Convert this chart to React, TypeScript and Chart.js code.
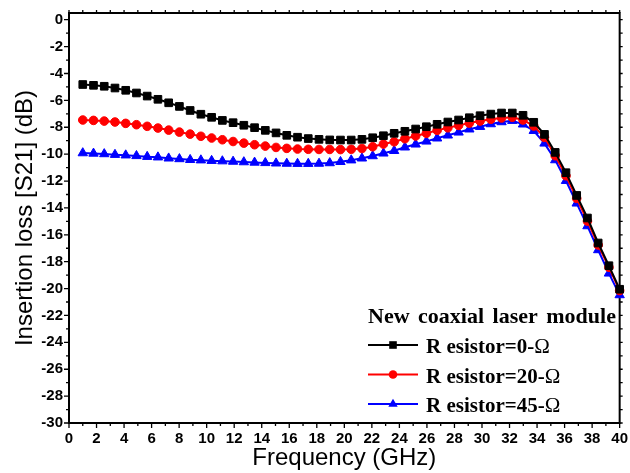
import React, { useEffect, useRef } from "react";
import { Chart, registerables } from "chart.js";

Chart.register(...registerables);

// Frequency points (GHz)
const frequencyGHz = [
  1.0, 1.78, 2.56, 3.34, 4.12, 4.9, 5.68, 6.46, 7.24, 8.02,
  8.8, 9.58, 10.36, 11.14, 11.92, 12.7, 13.48, 14.26, 15.04, 15.82,
  16.6, 17.38, 18.16, 18.94, 19.72, 20.5, 21.28, 22.06, 22.84, 23.62,
  24.4, 25.18, 25.96, 26.74, 27.52, 28.3, 29.08, 29.86, 30.64, 31.42,
  32.2, 32.98, 33.76, 34.54, 35.32, 36.1, 36.88, 37.66, 38.44, 39.22, 40.0,
];

// Insertion loss S21 (dB)
const resistor0 = [
  -4.82, -4.88, -4.95, -5.08, -5.25, -5.45, -5.68, -5.92, -6.18, -6.45,
  -6.75, -7.03, -7.26, -7.49, -7.66, -7.85, -8.03, -8.23, -8.42, -8.6,
  -8.74, -8.84, -8.9, -8.94, -8.95, -8.95, -8.9, -8.78, -8.63, -8.45,
  -8.3, -8.13, -7.96, -7.78, -7.61, -7.46, -7.29, -7.14, -7.02, -6.94,
  -6.94, -7.11, -7.63, -8.53, -9.87, -11.38, -13.07, -14.75, -16.61, -18.3, -20.05,
];
const resistor20 = [
  -7.46, -7.49, -7.54, -7.61, -7.71, -7.81, -7.93, -8.06, -8.21, -8.36,
  -8.51, -8.67, -8.8, -8.93, -9.06, -9.18, -9.3, -9.4, -9.5, -9.57,
  -9.62, -9.64, -9.65, -9.65, -9.66, -9.64, -9.58, -9.45, -9.25, -9.08,
  -8.85, -8.65, -8.45, -8.23, -8.04, -7.86, -7.69, -7.54, -7.41, -7.31,
  -7.26, -7.46, -7.91, -8.75, -10.12, -11.61, -13.29, -14.98, -16.76, -18.42, -20.15,
];
const resistor45 = [
  -9.92, -9.95, -9.99, -10.04, -10.08, -10.13, -10.19, -10.23, -10.31, -10.36,
  -10.42, -10.45, -10.49, -10.52, -10.55, -10.59, -10.62, -10.65, -10.68, -10.7,
  -10.71, -10.71, -10.7, -10.66, -10.57, -10.45, -10.31, -10.14, -9.94, -9.75,
  -9.49, -9.27, -9.05, -8.82, -8.6, -8.38, -8.15, -7.96, -7.76, -7.61,
  -7.51, -7.78, -8.26, -9.2, -10.44, -11.98, -13.66, -15.35, -17.13, -18.87, -20.48,
];

// Tick labels
const yTickValues = [-30, -28, -26, -24, -22, -20, -18, -16, -14, -12, -10, -8, -6, -4, -2, 0];

const seriesLabels = ["R esistor=0-", "R esistor=20-", "R esistor=45-"];
const seriesUnit = "Ω";
const seriesColors = ["#000000", "#ff0000", "#0000ff"];
const seriesMarkers = ["rect", "circle", "triangle"];
const legendTitle = "New coaxial laser module";
const xTitle = "Frequency (GHz)";
const yTitle = "Insertion loss [S21] (dB)";

const sansFamily = '"Liberation Sans", Arial, Helvetica, sans-serif';
const serifFamily = '"Liberation Serif", "Times New Roman", serif';

function drawMarker(ctx: CanvasRenderingContext2D, style: string, x: number, y: number, color: string) {
  ctx.save();
  ctx.fillStyle = color;
  ctx.beginPath();
  if (style === "rect") {
    ctx.rect(x - 3.8, y - 3.8, 7.6, 7.6);
  } else if (style === "circle") {
    ctx.arc(x, y, 4.3, 0, Math.PI * 2);
  } else {
    ctx.moveTo(x, y - 5.3);
    ctx.lineTo(x + 4.7, y + 2.7);
    ctx.lineTo(x - 4.7, y + 2.7);
    ctx.closePath();
  }
  ctx.fill();
  ctx.restore();
}

const framePlugin = {
  id: "frameTicks",
  beforeDatasetsDraw(chart: any) {
    const { ctx, chartArea: a, scales } = chart;
    const xs = scales.x;
    const ys = scales.y;
    ctx.save();
    ctx.strokeStyle = "#000";
    ctx.lineWidth = 1.3;
    ctx.beginPath();
    for (let v = Math.ceil(xs.min); v <= xs.max; v++) {
      const px = xs.getPixelForValue(v);
      const major = v % 2 === 0;
      ctx.moveTo(px, a.bottom);
      ctx.lineTo(px, a.bottom + (major ? 5 : 3));
      ctx.moveTo(px, a.top);
      ctx.lineTo(px, a.top - 3);
    }
    for (let v = Math.ceil(ys.min); v <= ys.max; v++) {
      const py = ys.getPixelForValue(v);
      const major = v % 2 === 0;
      ctx.moveTo(a.left, py);
      ctx.lineTo(a.left - (major ? 5 : 3), py);
      ctx.moveTo(a.right, py);
      ctx.lineTo(a.right + 3, py);
    }
    ctx.stroke();
    ctx.lineWidth = 2;
    ctx.strokeRect(a.left, a.top, a.right - a.left, a.bottom - a.top);
    ctx.restore();
  },
};

const legendPlugin = {
  id: "insetLegend",
  afterDraw(chart: any) {
    const { ctx } = chart;
    ctx.save();
    ctx.fillStyle = "#000";
    ctx.textBaseline = "alphabetic";
    ctx.textAlign = "left";
    ctx.font = `bold 22px ${serifFamily}`;
    (ctx as any).wordSpacing = "3px";
    ctx.fillText(legendTitle, 368, 323);
    (ctx as any).wordSpacing = "0px";
    chart.data.datasets.forEach((ds: any, i: number) => {
      const cy = 345 + i * 29.5;
      ctx.strokeStyle = ds.borderColor;
      ctx.lineWidth = 2;
      ctx.beginPath();
      ctx.moveTo(368, cy);
      ctx.lineTo(418, cy);
      ctx.stroke();
      drawMarker(ctx, ds.pointStyle, 393, cy, ds.borderColor);
      ctx.fillStyle = "#000";
      ctx.font = `bold 21px ${serifFamily}`;
      ctx.fillText(ds.label, 426, cy + 8);
      const w = ctx.measureText(ds.label).width;
      ctx.font = `21px ${serifFamily}`;
      ctx.fillText(seriesUnit, 426 + w, cy + 8);
    });
    ctx.restore();
  },
};

export default function App() {
  const canvasRef = useRef<HTMLCanvasElement | null>(null);

  useEffect(() => {
    if (!canvasRef.current) return;
    const seriesValues = [resistor0, resistor20, resistor45];
    const chart = new Chart(canvasRef.current, {
      type: "line",
      data: {
        datasets: seriesValues.map((vals, i) => ({
          label: seriesLabels[i],
          data: frequencyGHz.map((f, j) => ({ x: f, y: vals[j] })),
          borderColor: seriesColors[i],
          backgroundColor: seriesColors[i],
          pointBackgroundColor: seriesColors[i],
          pointBorderColor: seriesColors[i],
          pointStyle: seriesMarkers[i],
          pointRadius: seriesMarkers[i] === "circle" ? 4.3 : 5.4,
          pointBorderWidth: 1,
          borderWidth: 2,
          tension: 0,
          clip: false,
        })),
      },
      options: {
        animation: false,
        responsive: false,
        devicePixelRatio: 1,
        layout: { padding: { left: 0, top: 13, right: 7, bottom: 0 } },
        plugins: {
          legend: { display: false },
          tooltip: { enabled: false },
        },
        scales: {
          x: {
            type: "linear",
            min: 0,
            max: 40,
            afterFit: (s: any) => {
              s.height = 50;
            },
            grid: { display: false, drawTicks: true, tickLength: 5 },
            border: { display: false },
            ticks: {
              stepSize: 2,
              autoSkip: false,
              maxRotation: 0,
              padding: 2,
              color: "#000",
              font: { family: sansFamily, weight: "bold", size: 15 },
            },
            title: {
              display: true,
              text: xTitle,
              color: "#000",
              font: { family: sansFamily, size: 24, lineHeight: 1.2 },
              padding: { top: 0, bottom: 0 },
            },
          },
          y: {
            type: "linear",
            min: -30,
            max: 0.5,
            afterFit: (s: any) => {
              s.width = 69;
            },
            afterBuildTicks: (s: any) => {
              s.ticks = yTickValues.map((v) => ({ value: v }));
            },
            grid: { display: false, drawTicks: true, tickLength: 5 },
            border: { display: false },
            ticks: {
              autoSkip: false,
              padding: 1,
              color: "#000",
              font: { family: sansFamily, weight: "bold", size: 15 },
            },
            title: {
              display: true,
              text: yTitle,
              color: "#000",
              font: { family: sansFamily, size: 24, lineHeight: 1.2 },
              padding: { top: 11, bottom: 0 },
            },
          },
        },
      },
      plugins: [framePlugin, legendPlugin],
    } as any);
    return () => chart.destroy();
  }, []);

  return (
    <div style={{ position: "absolute", left: 0, top: 0, width: 630, height: 473, background: "#fff" }}>
      <canvas ref={canvasRef} width={630} height={473} style={{ display: "block" }} />
    </div>
  );
}
